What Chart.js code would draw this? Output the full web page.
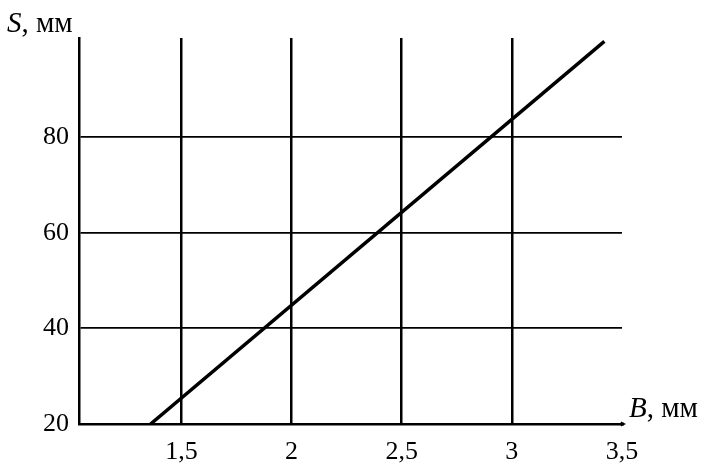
<!DOCTYPE html>
<html><head><meta charset="utf-8">
<script src="https://cdn.jsdelivr.net/npm/chart.js@4"></script>
<style>
html,body{margin:0;padding:0;background:#fff;}
#wrap{position:relative;width:706px;height:472px;}
.lbl{position:absolute;font-family:"Liberation Serif","Times New Roman",serif;font-size:29px;line-height:1;color:#000;white-space:nowrap;}
</style></head><body>
<div id="wrap"><canvas id="c" width="706" height="472"></canvas>
<div class="lbl" style="left:7px;top:8px;"><i>S</i>, мм</div>
<div class="lbl" style="left:629px;top:393px;"><i>B</i>, мм</div>
</div>
<script>
const xTicks = [1.5, 2, 2.5, 3, 3.5];
const yTicks = [20, 40, 60, 80];
const lineX = [1.36, 3.42];
const lineY = [20, 100];
const xMin = 1.035, xMax = 3.5, yMin = 20, yMax = 100.7;

const pts = lineX.map((x, i) => ({x: x, y: lineY[i]}));
const fmt = v => String(v).replace('.', ',');

const arrowPlugin = {
  id: 'axisArrow',
  afterDraw(chart) {
    const {ctx, chartArea} = chart;
    const y = chart.scales.y.getPixelForValue(yMin);
    ctx.save();
    ctx.strokeStyle = '#000'; ctx.fillStyle = '#000'; ctx.lineWidth = 2.5;
    ctx.beginPath(); ctx.moveTo(chartArea.right - 2, y); ctx.lineTo(chartArea.right + 2, y); ctx.stroke();
    ctx.beginPath(); ctx.moveTo(chartArea.right + 4, y); ctx.lineTo(chartArea.right - 1, y - 2.5); ctx.lineTo(chartArea.right - 1, y + 2.5); ctx.closePath(); ctx.fill();
    ctx.restore();
  }
};

new Chart(document.getElementById('c'), {
  type: 'scatter',
  data: { datasets: [{ data: pts, showLine: true, borderColor: '#000', borderWidth: 3.5, pointRadius: 0, fill: false }] },
  options: {
    responsive: false, animation: false,
    layout: { padding: { left: 0, right: 84, top: 38, bottom: 0 } },
    plugins: { legend: { display: false }, tooltip: { enabled: false } },
    scales: {
      x: {
        type: 'linear', min: xMin, max: xMax,
        afterBuildTicks: s => { s.ticks = xTicks.map(v => ({value: v})); },
        afterFit: s => { s.height = 48; },
        grid: { drawTicks: false, color: ctx => (ctx.tick && ctx.tick.value === 3.5) ? 'rgba(0,0,0,0)' : '#000', lineWidth: 2.5 },
        border: { display: true, color: '#000', width: 2.5 },
        ticks: { color: '#000', padding: 13, maxRotation: 0, font: { family: 'Liberation Serif', size: 26 }, callback: v => fmt(v) }
      },
      y: {
        type: 'linear', min: yMin, max: yMax,
        afterBuildTicks: s => { s.ticks = yTicks.map(v => ({value: v})); },
        afterFit: s => { s.width = 79; },
        grid: { drawTicks: false, color: '#000', lineWidth: 1.8 },
        border: { display: true, color: '#000', width: 2.5 },
        ticks: { color: '#000', padding: 10, font: { family: 'Liberation Serif', size: 26 }, callback: v => fmt(v) }
      }
    }
  }
  ,plugins: [arrowPlugin]
});
</script>
</body></html>
